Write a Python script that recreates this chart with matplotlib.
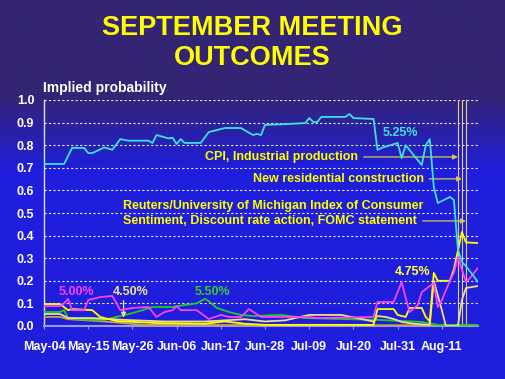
import numpy as np
import pandas as pd
import matplotlib
matplotlib.use('Agg')
import matplotlib.pyplot as plt
import matplotlib.dates as mdates

plt.rcParams['font.family'] = ['Liberation Sans', 'DejaVu Sans']

# days counted from May-04 (2007) and implied probabilities
start = pd.Timestamp('2007-05-04')

cyan_days = [0, 5, 7, 10, 11, 12, 15, 17, 19, 21, 26, 27, 28, 31, 32, 33, 34, 35, 39, 41, 45, 49,
             52, 53, 54, 55, 60, 65, 66, 67, 68, 69, 75, 76, 77, 82, 83, 84, 88, 89, 90, 94, 95,
             96, 97, 98, 101, 102, 103, 104, 105, 108]
cyan_vals = [0.717, 0.717, 0.788, 0.788, 0.765, 0.765, 0.79, 0.78, 0.827, 0.82, 0.82, 0.81, 0.845,
             0.83, 0.833, 0.805, 0.827, 0.81, 0.81, 0.858, 0.876, 0.876, 0.845, 0.85, 0.845, 0.89,
             0.893, 0.898, 0.92, 0.903, 0.903, 0.925, 0.925, 0.938, 0.92, 0.916, 0.779, 0.788, 0.81,
             0.743, 0.80, 0.712, 0.80, 0.827, 0.615, 0.544, 0.571, 0.558, 0.34, 0.283, 0.265, 0.195]

mag_days = [0, 4, 5, 6, 7, 10, 11, 14, 17, 19, 22, 26, 28, 30, 32, 33, 34, 38, 41, 44, 46, 49, 51,
            54, 66, 68, 82, 83, 87, 89, 90, 91, 93, 94, 97, 98, 99, 101, 102, 103, 105, 106, 108]
mag_vals = [0.088, 0.088, 0.10, 0.12, 0.07, 0.07, 0.115, 0.128, 0.133, 0.07, 0.08, 0.084, 0.04,
            0.062, 0.07, 0.088, 0.07, 0.07, 0.031, 0.049, 0.04, 0.04, 0.075, 0.04, 0.04, 0.035,
            0.04, 0.106, 0.106, 0.195, 0.124, 0.062, 0.093, 0.15, 0.19, 0.084, 0.115, 0.2, 0.235,
            0.305, 0.195, 0.212, 0.257]

grn_days = [0, 4, 5, 6, 11, 15, 18, 22, 27, 32, 35, 38, 40, 41, 43, 46, 49, 52, 59, 65, 83, 94, 98, 108]
grn_vals = [0.062, 0.062, 0.07, 0.035, 0.027, 0.027, 0.04, 0.057, 0.084, 0.084, 0.093, 0.10, 0.12,
            0.11, 0.08, 0.062, 0.049, 0.044, 0.049, 0.035, 0.027, 0.018, 0.005, 0.005]

y475_days = [0, 4, 6, 7, 12, 14, 18, 28, 40, 45, 50, 55, 60, 82, 83, 87, 88, 90, 91, 94, 95, 96,
             97, 98, 101, 102, 104, 105, 108]
y475_vals = [0.097, 0.097, 0.07, 0.075, 0.07, 0.04, 0.022, 0.013, 0.01, 0.02, 0.01, 0.005, 0.005,
             0.005, 0.075, 0.075, 0.049, 0.04, 0.08, 0.08, 0.04, 0.02, 0.235, 0.20, 0.20, 0.25,
             0.416, 0.37, 0.367]

y450_days = [0, 4, 6, 12, 20, 30, 40, 50, 55, 60, 66, 74, 82, 83, 85, 87, 89, 92, 96, 97, 99, 100,
             103, 104, 105, 108]
y450_vals = [0.053, 0.053, 0.035, 0.035, 0.027, 0.02, 0.02, 0.03, 0.02, 0.025, 0.049, 0.049, 0.02,
             0.044, 0.04, 0.031, 0.018, 0.01, 0.005, 0.20, 0.07, 0.0, 0.0, 0.115, 0.168, 0.177]

y425_days = [0, 4, 6, 15, 25, 108]
y425_vals = [0.04, 0.04, 0.03, 0.02, 0.005, 0.003]

release_dates = ['2007-08-15', '2007-08-16', '2007-08-17']
tick_dates = pd.date_range('2007-05-04', periods=10, freq='11D')


def to_dates(days):
    return [start + pd.Timedelta(days=d) for d in days]


def day(d):
    return start + pd.Timedelta(days=d)


fig = plt.figure(figsize=(5.05, 3.79), dpi=100)

# background: dark purple at the top fading into blue
bg = fig.add_axes([0, 0, 1, 1], zorder=-10)
bg.axis('off')
rows = np.linspace(0, 1, 200)
top = np.array([0x34, 0x24, 0x74]) / 255
blue = np.array([0x1e, 0x1e, 0xdc]) / 255
w = np.clip((rows - 0.25) / 0.2, 0, 1)[:, None]
grad = top * (1 - w) + blue * w
bg.imshow(grad[:, None, :], aspect='auto', extent=[0, 1, 0, 1])
bg.set_xlim(0, 1)
bg.set_ylim(0, 1)

fig.text(0.5, 0.927, 'SEPTEMBER MEETING', color='#ffff00', fontsize=19.5, fontweight='bold',
         ha='center', va='center')
fig.text(0.5, 0.847, 'OUTCOMES', color='#ffff00', fontsize=19.5, fontweight='bold',
         ha='center', va='center')
fig.text(0.085, 0.768, 'Implied probability', color='white', fontsize=10, fontweight='bold',
         ha='left', va='center')

ax = fig.add_axes([44 / 505, 1 - 326 / 379, 434 / 505, 226 / 379])
ax.set_facecolor('none')

ax.set_xlim(start, start + pd.Timedelta(days=108))
ax.set_ylim(0, 1.0)

ax.set_yticks(np.arange(0, 1.01, 0.1))
ax.yaxis.set_major_formatter(matplotlib.ticker.FormatStrFormatter('%.1f'))
ax.set_xticks(tick_dates)
ax.xaxis.set_major_formatter(mdates.DateFormatter('%b-%d'))
ax.tick_params(axis='y', length=0, pad=7, labelsize=9, labelcolor='white')
ax.tick_params(axis='x', length=2, color='#9a9ad8', pad=9, labelsize=9, labelcolor='white')
for lab in ax.get_xticklabels() + ax.get_yticklabels():
    lab.set_fontweight('bold')

ax.grid(axis='y', color='#e8e8ff', linestyle=(0, (2, 2)), linewidth=0.8)
ax.set_axisbelow(True)
for s in ['top', 'right']:
    ax.spines[s].set_visible(False)
ax.spines['left'].set_color('#e0e0f0')
ax.spines['left'].set_linewidth(1)
ax.spines['bottom'].set_color('#9a9ad8')
ax.spines['bottom'].set_linewidth(1.5)

for d in release_dates:
    ax.axvline(pd.Timestamp(d), color='#e0d080', linewidth=0.8, zorder=2)

lw = 1.3
ax.plot(to_dates(y425_days), y425_vals, color='#c8a048', linewidth=lw, zorder=3)
ax.plot(to_dates(grn_days), grn_vals, color='#22cc22', linewidth=lw, zorder=3)
ax.plot(to_dates(y450_days), y450_vals, color='#f0e080', linewidth=lw, zorder=3)
ax.plot(to_dates(y475_days), y475_vals, color='#ffff00', linewidth=lw, zorder=3)
ax.plot(to_dates(mag_days), mag_vals, color='#ff40ff', linewidth=lw, zorder=4)
ax.plot(to_dates(cyan_days), cyan_vals, color='#40e0e0', linewidth=lw, zorder=5)

# outcome labels
ax.text(day(3.7), 0.15, '5.00%', color='#ff40ff', fontsize=9, fontweight='bold', va='center')
ax.text(day(17.2), 0.15, '4.50%', color='#f0e090', fontsize=9, fontweight='bold', va='center')
ax.text(day(37.6), 0.15, '5.50%', color='#33cc33', fontsize=9, fontweight='bold', va='center')
ax.text(day(87.2), 0.24, '4.75%', color='#ffff40', fontsize=9, fontweight='bold', va='center')
ax.text(day(84.2), 0.852, '5.25%', color='#40e0e0', fontsize=9, fontweight='bold', va='center')
ax.annotate('', xy=(day(19.8), 0.025), xytext=(day(19.8), 0.125),
            arrowprops=dict(arrowstyle='-|>', color='#f0e090', lw=0.9, mutation_scale=7))

# data release annotations
arrow = dict(arrowstyle='-|>', color='#d8c850', lw=0.9, mutation_scale=7, shrinkA=2, shrinkB=0)
ax.annotate('CPI, Industrial production', xy=(pd.Timestamp(release_dates[0]), 0.748),
            xytext=(day(40.1), 0.748), color='#ffff00', fontsize=9, fontweight='bold',
            va='center', ha='left', arrowprops=arrow)
ax.annotate('New residential construction', xy=(pd.Timestamp(release_dates[1]), 0.651),
            xytext=(day(51.9), 0.651), color='#ffff00', fontsize=9, fontweight='bold',
            va='center', ha='left', arrowprops=arrow)
ax.text(day(19.7), 0.531, 'Reuters/University of Michigan Index of Consumer', color='#ffff00',
        fontsize=9, fontweight='bold', va='center', ha='left')
ax.annotate('Sentiment, Discount rate action, FOMC statement',
            xy=(pd.Timestamp(release_dates[2]), 0.465), xytext=(day(19.7), 0.465),
            color='#ffff00', fontsize=9, fontweight='bold', va='center', ha='left',
            arrowprops=arrow)

fig.savefig('out.png', dpi=100)
